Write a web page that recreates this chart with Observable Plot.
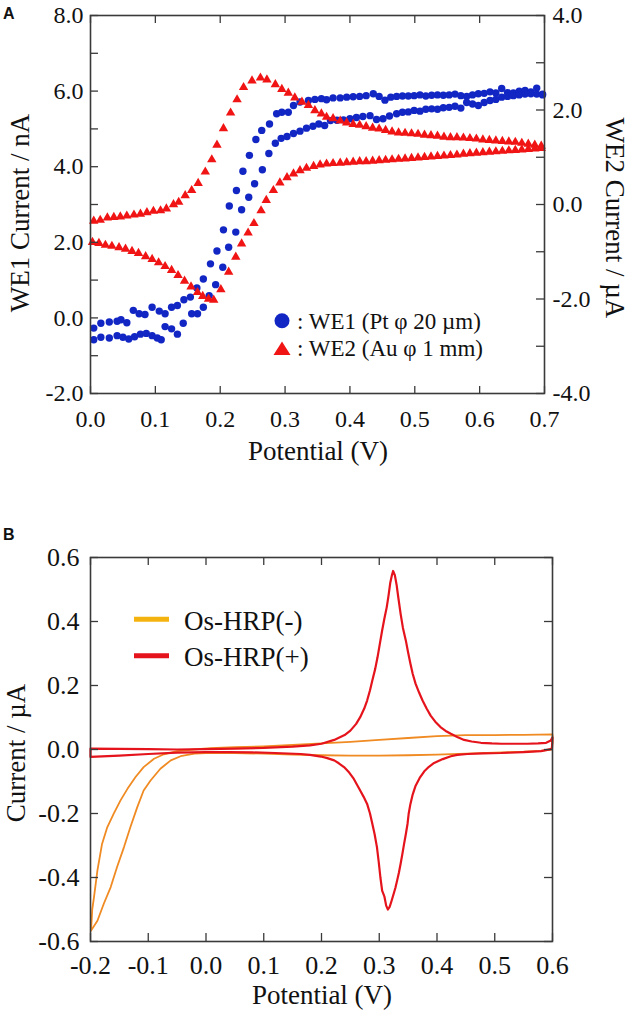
<!DOCTYPE html>
<html><head><meta charset="utf-8">
<script src="https://cdn.jsdelivr.net/npm/d3@7"></script>
<script src="https://cdn.jsdelivr.net/npm/@observablehq/plot@0.6"></script>
<style>
body{margin:0;background:#fff;}
#wrap{position:relative;width:630px;height:1012px;overflow:hidden;background:#fff;}
#wrap svg text{font-family:"Liberation Serif","Times New Roman",serif;}
#wrap svg text.sans{font-family:"Liberation Sans",Arial,sans-serif;}
</style></head><body><div id="wrap"></div>
<script>
// ---------- Panel A data ----------
// potential (V), WE1 current (nA)
const we1Upper = [[0.005,-0.27],[0.016,-0.14],[0.029,-0.11],[0.041,-0.09],[0.047,-0.05],[0.056,-0.13],[0.066,0.20],[0.075,0.11],[0.084,0.09],[0.095,0.28],[0.106,0.18],[0.115,0.11],[0.125,0.28],[0.134,0.33],[0.144,0.48],[0.154,0.55],[0.164,0.79],[0.174,1.03],[0.185,1.43],[0.195,1.77],[0.205,2.33],[0.214,2.96],[0.225,3.37],[0.235,3.88],[0.245,4.30],[0.255,4.72],[0.264,4.96],[0.276,5.13],[0.287,5.40],[0.295,5.44],[0.305,5.44],[0.313,5.62],[0.323,5.71],[0.336,5.75],[0.346,5.78],[0.356,5.80],[0.364,5.77],[0.374,5.82],[0.385,5.82],[0.395,5.84],[0.405,5.85],[0.415,5.86],[0.425,5.88],[0.436,5.93],[0.445,5.86],[0.454,5.76],[0.463,5.84],[0.472,5.86],[0.481,5.87],[0.490,5.87],[0.499,5.88],[0.508,5.90],[0.517,5.87],[0.526,5.89],[0.535,5.90],[0.544,5.89],[0.553,5.90],[0.562,5.92],[0.571,5.88],[0.580,5.86],[0.589,5.90],[0.598,5.93],[0.607,5.94],[0.616,5.98],[0.625,5.95],[0.634,6.07],[0.643,5.96],[0.652,5.95],[0.661,6.00],[0.670,6.02],[0.679,5.98],[0.688,6.08],[0.697,5.92]];
const we1Lower = [[0.005,-0.58],[0.016,-0.51],[0.029,-0.53],[0.041,-0.47],[0.050,-0.51],[0.059,-0.56],[0.068,-0.50],[0.077,-0.43],[0.086,-0.41],[0.095,-0.47],[0.103,-0.53],[0.109,-0.58],[0.115,-0.23],[0.125,-0.29],[0.134,-0.43],[0.143,-0.14],[0.156,0.11],[0.165,0.11],[0.174,0.28],[0.183,0.59],[0.193,0.88],[0.204,1.34],[0.213,1.87],[0.224,2.27],[0.233,2.86],[0.244,3.19],[0.253,3.55],[0.265,3.92],[0.275,4.35],[0.285,4.62],[0.294,4.75],[0.303,4.80],[0.313,4.88],[0.323,4.94],[0.333,5.02],[0.343,5.07],[0.352,5.13],[0.361,5.09],[0.370,5.22],[0.380,5.23],[0.390,5.24],[0.400,5.27],[0.410,5.30],[0.420,5.33],[0.431,5.35],[0.441,5.25],[0.451,5.27],[0.461,5.34],[0.472,5.40],[0.481,5.44],[0.490,5.45],[0.499,5.49],[0.508,5.47],[0.517,5.52],[0.526,5.53],[0.535,5.52],[0.544,5.56],[0.553,5.57],[0.562,5.60],[0.571,5.55],[0.580,5.70],[0.589,5.66],[0.598,5.62],[0.607,5.70],[0.616,5.75],[0.625,5.78],[0.634,5.84],[0.643,5.86],[0.652,5.88],[0.661,5.90],[0.670,5.92],[0.679,5.93],[0.688,5.92],[0.697,5.90]];
// potential (V), WE2 current (µA)
const we2Forward = [[0.005,-0.35],[0.015,-0.33],[0.026,-0.28],[0.036,-0.27],[0.046,-0.26],[0.056,-0.24],[0.067,-0.22],[0.077,-0.20],[0.087,-0.17],[0.097,-0.14],[0.108,-0.13],[0.117,-0.09],[0.128,0.00],[0.136,0.05],[0.146,0.19],[0.156,0.30],[0.166,0.45],[0.177,0.69],[0.187,0.95],[0.195,1.26],[0.205,1.61],[0.216,1.94],[0.226,2.22],[0.236,2.48],[0.249,2.62],[0.262,2.68],[0.272,2.64],[0.285,2.54],[0.295,2.44],[0.305,2.36],[0.315,2.26],[0.326,2.17],[0.336,2.10],[0.346,1.99],[0.356,1.92],[0.364,1.85],[0.374,1.82],[0.385,1.77],[0.395,1.73],[0.405,1.70],[0.415,1.68],[0.425,1.65],[0.435,1.62],[0.445,1.60],[0.455,1.57],[0.465,1.54],[0.475,1.52],[0.485,1.51],[0.495,1.50],[0.505,1.49],[0.515,1.47],[0.525,1.46],[0.535,1.45],[0.545,1.43],[0.555,1.42],[0.565,1.42],[0.575,1.41],[0.585,1.40],[0.595,1.39],[0.605,1.37],[0.615,1.36],[0.625,1.35],[0.635,1.34],[0.645,1.33],[0.655,1.32],[0.665,1.30],[0.675,1.28],[0.685,1.26],[0.695,1.24]];
const we2Reverse = [[0.003,-0.80],[0.013,-0.82],[0.023,-0.86],[0.033,-0.88],[0.044,-0.91],[0.054,-0.94],[0.064,-0.99],[0.074,-1.03],[0.085,-1.10],[0.095,-1.16],[0.105,-1.23],[0.115,-1.31],[0.125,-1.39],[0.135,-1.50],[0.145,-1.62],[0.155,-1.74],[0.165,-1.86],[0.173,-1.94],[0.182,-2.00],[0.190,-2.02],[0.201,-1.80],[0.213,-1.43],[0.224,-1.11],[0.233,-0.83],[0.243,-0.60],[0.252,-0.40],[0.263,-0.13],[0.271,0.09],[0.282,0.30],[0.292,0.46],[0.303,0.57],[0.313,0.65],[0.323,0.72],[0.333,0.77],[0.344,0.81],[0.354,0.84],[0.364,0.86],[0.374,0.87],[0.385,0.88],[0.395,0.89],[0.405,0.90],[0.415,0.91],[0.425,0.91],[0.435,0.92],[0.445,0.93],[0.455,0.94],[0.465,0.95],[0.475,0.96],[0.485,0.97],[0.495,0.98],[0.505,0.99],[0.515,1.00],[0.525,1.01],[0.535,1.02],[0.545,1.03],[0.555,1.04],[0.565,1.05],[0.575,1.07],[0.585,1.08],[0.595,1.09],[0.605,1.10],[0.615,1.11],[0.625,1.12],[0.635,1.13],[0.645,1.14],[0.655,1.15],[0.665,1.16],[0.675,1.17],[0.685,1.18],[0.695,1.19]];
const aXTicks = [0, 0.1, 0.2, 0.3, 0.4, 0.5, 0.6, 0.7];
const aLeftLabels = [-2, 0, 2, 4, 6, 8];
const aLeftTicks = [-2, -1, 0, 1, 2, 3, 4, 5, 6, 7, 8];
const aRightLabels = [-4, -2, 0, 2, 4];
const aRightTicks = [-4, -3, -2, -1, 0, 1, 2, 3, 4];

// ---------- Panel B data ----------
// potential (V), current (µA), in scan order
const osMinus = [[-0.199,-0.566],[-0.197,-0.50],[-0.194,-0.462],[-0.188,-0.378],[-0.180,-0.295],[-0.171,-0.243],[-0.160,-0.201],[-0.148,-0.159],[-0.136,-0.123],[-0.122,-0.086],[-0.108,-0.055],[-0.090,-0.029],[-0.073,-0.015],[-0.050,-0.005],[-0.021,0.000],[0.008,0.004],[0.05,0.007],[0.10,0.010],[0.15,0.014],[0.20,0.019],[0.25,0.024],[0.30,0.030],[0.35,0.036],[0.40,0.042],[0.45,0.045],[0.50,0.045],[0.55,0.046],[0.60,0.047],[0.60,0.02],[0.598,0.0],[0.58,-0.004],[0.55,-0.007],[0.50,-0.010],[0.45,-0.013],[0.40,-0.016],[0.35,-0.018],[0.30,-0.019],[0.25,-0.019],[0.20,-0.018],[0.15,-0.016],[0.10,-0.013],[0.05,-0.011],[0.0,-0.011],[-0.02,-0.013],[-0.044,-0.021],[-0.061,-0.034],[-0.079,-0.060],[-0.096,-0.097],[-0.108,-0.128],[-0.119,-0.180],[-0.131,-0.243],[-0.142,-0.305],[-0.154,-0.367],[-0.165,-0.430],[-0.177,-0.482],[-0.188,-0.535],[-0.199,-0.566]];
const osPlus = [[-0.2,0.003],[-0.15,0.002],[-0.10,0.001],[-0.05,0.0],[0.0,0.001],[0.05,0.003],[0.10,0.005],[0.15,0.009],[0.18,0.013],[0.20,0.018],[0.222,0.030],[0.240,0.045],[0.250,0.059],[0.260,0.080],[0.267,0.101],[0.274,0.128],[0.279,0.153],[0.284,0.185],[0.288,0.216],[0.293,0.252],[0.297,0.288],[0.301,0.330],[0.305,0.372],[0.309,0.41],[0.313,0.445],[0.316,0.48],[0.319,0.52],[0.322,0.545],[0.324,0.558],[0.327,0.545],[0.330,0.515],[0.333,0.475],[0.337,0.424],[0.341,0.38],[0.346,0.341],[0.350,0.303],[0.354,0.268],[0.358,0.236],[0.363,0.205],[0.369,0.178],[0.375,0.153],[0.382,0.128],[0.389,0.106],[0.397,0.087],[0.406,0.070],[0.415,0.058],[0.424,0.049],[0.435,0.039],[0.447,0.030],[0.460,0.025],[0.476,0.021],[0.495,0.019],[0.511,0.018],[0.535,0.018],[0.557,0.018],[0.575,0.019],[0.589,0.021],[0.597,0.028],[0.600,0.038],[0.599,0.002],[0.58,-0.005],[0.55,-0.008],[0.511,-0.011],[0.48,-0.012],[0.453,-0.014],[0.435,-0.017],[0.424,-0.021],[0.41,-0.03],[0.395,-0.042],[0.386,-0.054],[0.378,-0.068],[0.370,-0.089],[0.363,-0.113],[0.358,-0.140],[0.354,-0.170],[0.351,-0.200],[0.349,-0.232],[0.346,-0.265],[0.343,-0.295],[0.340,-0.327],[0.337,-0.357],[0.334,-0.385],[0.331,-0.409],[0.328,-0.432],[0.325,-0.451],[0.321,-0.475],[0.318,-0.492],[0.315,-0.500],[0.312,-0.488],[0.309,-0.460],[0.305,-0.441],[0.302,-0.400],[0.299,-0.350],[0.296,-0.305],[0.292,-0.265],[0.288,-0.232],[0.284,-0.200],[0.279,-0.170],[0.273,-0.148],[0.267,-0.128],[0.256,-0.092],[0.248,-0.072],[0.239,-0.055],[0.230,-0.043],[0.222,-0.034],[0.21,-0.027],[0.199,-0.022],[0.18,-0.017],[0.164,-0.014],[0.12,-0.011],[0.08,-0.009],[0.04,-0.008],[0.0,-0.008],[-0.05,-0.010],[-0.10,-0.014],[-0.15,-0.019],[-0.2,-0.023],[-0.2,0.003]];
const bXTicks = [-0.2, -0.1, 0, 0.1, 0.2, 0.3, 0.4, 0.5, 0.6];
const bYTicks = [-0.6, -0.4, -0.2, 0, 0.2, 0.4, 0.6];

// ---------- styling ----------
const SERIF = "Liberation Serif";
const AX = "#3a3a3a";
const BLUE = "#1226c4", RED_A = "#f01414";
const RED_B = "#e5141c", ORANGE_B = "#f08a22", ORANGE_SW = "#f5b30f";
const fmt = d => d.toFixed(1);
const toLeft = ua => ua * 1.25 + 3;   // WE2 µA -> WE1 nA axis position

const wrap = document.getElementById("wrap");
const axText = size => ({fontSize: size, fill: "#111"});

// Panel A
const aW = 630, aH = 470, aML = 90, aMR = 86, aMT = 15, aMB = 77;
const aIW = aW - aML - aMR, aIH = aH - aMT - aMB;
const plotA = Plot.plot({
  width: aW, height: aH, marginLeft: aML, marginRight: aMR, marginTop: aMT, marginBottom: aMB,
  x: {domain: [0, 0.7], axis: null},
  y: {domain: [-2, 8], axis: null},
  style: {fontSize: "24px", color: "#111", background: "transparent", overflow: "visible"},
  marks: [
    Plot.dot(we1Upper, {x: d => d[0], y: d => d[1], r: 3.7, fill: BLUE, stroke: "none"}),
    Plot.dot(we1Lower, {x: d => d[0], y: d => d[1], r: 3.7, fill: BLUE, stroke: "none"}),
    Plot.dot(we2Forward, {x: d => d[0], y: d => toLeft(d[1]), symbol: "triangle", r: 3.5, fill: RED_A, stroke: "none"}),
    Plot.dot(we2Reverse, {x: d => d[0], y: d => toLeft(d[1]), symbol: "triangle", r: 3.5, fill: RED_A, stroke: "none"}),
    Plot.tickX(aXTicks, {x: d => d, insetBottom: aIH - 8, stroke: AX, strokeWidth: 1.3}),
    Plot.tickX(aXTicks, {x: d => d, insetTop: aIH - 7, stroke: AX, strokeWidth: 1.3}),
    Plot.tickY(aLeftTicks, {y: d => d, insetRight: aIW - 8, stroke: AX, strokeWidth: 1.3}),
    Plot.tickY(aRightTicks, {y: d => toLeft(d), insetLeft: aIW - 8, stroke: AX, strokeWidth: 1.3}),
    Plot.frame({stroke: AX, strokeWidth: 1.6}),
    Plot.axisX(aXTicks, {anchor: "bottom", tickSize: 0, tickPadding: 16, tickFormat: fmt, label: null, ...axText(24)}),
    Plot.axisY(aLeftLabels, {anchor: "left", tickSize: 0, tickPadding: 7, tickFormat: fmt, label: null, ...axText(24)}),
    Plot.axisY(aRightLabels.map(toLeft), {anchor: "right", tickSize: 0, tickPadding: 8, tickFormat: d => fmt((d - 3) / 1.25), label: null, ...axText(24)})
  ]
});
plotA.style.position = "absolute"; plotA.style.left = "0px"; plotA.style.top = "0px";
wrap.appendChild(plotA);

// Panel B
const bTop = 480, bW = 630, bH = 532, bML = 90, bMR = 78, bMT = 77, bMB = 71;
const bIW = bW - bML - bMR, bIH = bH - bMT - bMB;
const plotB = Plot.plot({
  width: bW, height: bH, marginLeft: bML, marginRight: bMR, marginTop: bMT, marginBottom: bMB,
  x: {domain: [-0.2, 0.6], axis: null},
  y: {domain: [-0.6, 0.6], axis: null},
  style: {fontSize: "26px", color: "#111", background: "transparent", overflow: "visible"},
  marks: [
    Plot.line(osMinus, {x: d => d[0], y: d => d[1], stroke: ORANGE_B, strokeWidth: 1.8}),
    Plot.line(osPlus, {x: d => d[0], y: d => d[1], stroke: RED_B, strokeWidth: 2.2}),
    Plot.tickX(bXTicks, {x: d => d, insetBottom: bIH - 8, stroke: AX, strokeWidth: 1.3}),
    Plot.tickX(bXTicks, {x: d => d, insetTop: bIH - 8, stroke: AX, strokeWidth: 1.3}),
    Plot.tickY(bYTicks, {y: d => d, insetRight: bIW - 8, stroke: AX, strokeWidth: 1.3}),
    Plot.tickY(bYTicks, {y: d => d, insetLeft: bIW - 8, stroke: AX, strokeWidth: 1.3}),
    Plot.frame({stroke: AX, strokeWidth: 1.6}),
    Plot.axisX(bXTicks, {anchor: "bottom", tickSize: 0, tickPadding: 14, tickFormat: fmt, label: null, ...axText(26)}),
    Plot.axisY(bYTicks, {anchor: "left", tickSize: 0, tickPadding: 11, tickFormat: fmt, label: null, ...axText(26)})
  ]
});
plotB.style.position = "absolute"; plotB.style.left = "0px"; plotB.style.top = bTop + "px";
wrap.appendChild(plotB);

// force serif on all tick labels
for (const svg of [plotA, plotB]) {
  d3.select(svg).selectAll("text").style("font-family", "'Liberation Serif', 'Times New Roman', serif").style("font-variant", "normal");
}

// Overlay: panel letters, axis titles, legends (real text)
const ov = d3.create("svg").attr("width", 630).attr("height", 1012)
  .style("position", "absolute").style("left", "0px").style("top", "0px")
  .style("pointer-events", "none");
const T = (x, y, s, size, opts = {}) => {
  const t = ov.append("text").attr("x", x).attr("y", y).text(s)
    .attr("font-size", size)
    .attr("fill", "#111").attr("dominant-baseline", opts.base || "central")
    .attr("text-anchor", opts.anchor || "middle");
  if (opts.cls) t.attr("class", opts.cls);
  if (opts.weight) t.attr("font-weight", opts.weight);
  if (opts.rot) t.attr("transform", `rotate(${opts.rot},${x},${y})`);
  return t;
};
T(3, 18.5, "A", 16, {cls: "sans", weight: "bold", anchor: "start", base: "auto"});
T(3, 539.5, "B", 16, {cls: "sans", weight: "bold", anchor: "start", base: "auto"});
T(20, 213, "WE1 Current / nA", 27, {rot: -90});
T(615, 218, "WE2 Current / µA", 27, {rot: 90});
T(318, 451, "Potential (V)", 27);
T(322, 995, "Potential (V)", 27);
T(16, 753, "Current / µA", 27, {rot: -90});

// Legend A
ov.append("circle").attr("cx", 282).attr("cy", 320.7).attr("r", 7.5).attr("fill", BLUE);
ov.append("path").attr("d", "M273.5,355L290.5,355L282,341.5Z").attr("fill", RED_A);
T(297, 321, ": WE1 (Pt φ 20 µm)", 23, {anchor: "start"});
T(297, 348.5, ": WE2 (Au φ 1 mm)", 23, {anchor: "start"});

// Legend B
ov.append("line").attr("x1", 134).attr("x2", 169).attr("y1", 619.3).attr("y2", 619.3).attr("stroke", ORANGE_SW).attr("stroke-width", 5);
ov.append("line").attr("x1", 134).attr("x2", 169).attr("y1", 655.7).attr("y2", 655.7).attr("stroke", RED_B).attr("stroke-width", 5);
T(184, 621, "Os-HRP(-)", 27, {anchor: "start"});
T(184, 657, "Os-HRP(+)", 27, {anchor: "start"});

wrap.appendChild(ov.node());
</script></body></html>
